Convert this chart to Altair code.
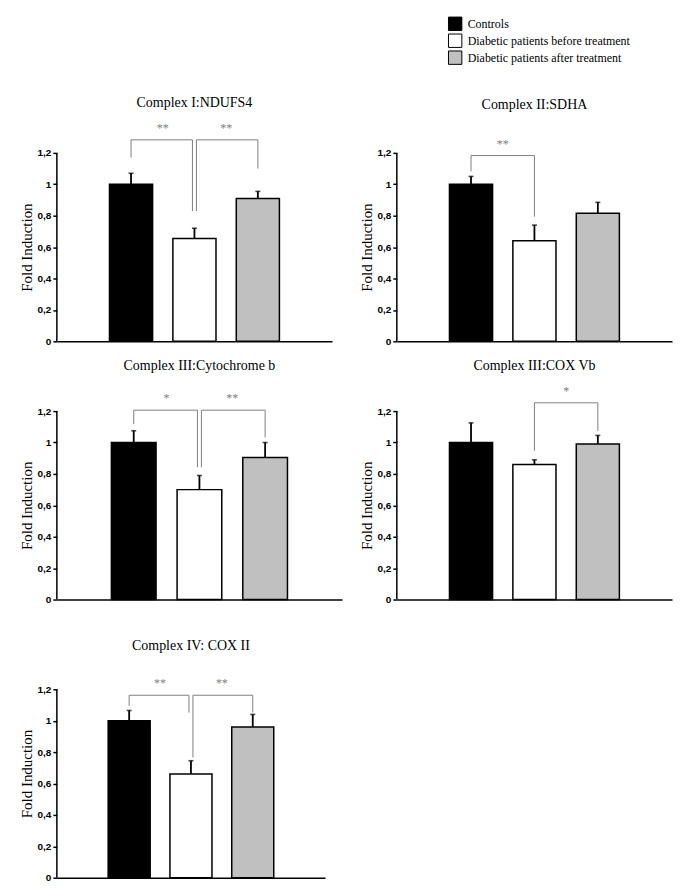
import altair as alt
import pandas as pd

# ---------------- data ----------------
groups = ["Controls", "Diabetic patients before treatment", "Diabetic patients after treatment"]
panel_titles = ["Complex I:NDUFS4", "Complex II:SDHA", "Complex III:Cytochrome b",
                "Complex III:COX Vb", "Complex IV: COX II"]
means = [[1.0, 0.655, 0.91],
         [1.0, 0.64, 0.815],
         [1.0, 0.70, 0.905],
         [1.0, 0.86, 0.99],
         [1.0, 0.66, 0.96]]
errors = [[0.07, 0.065, 0.045],
          [0.05, 0.10, 0.07],
          [0.075, 0.09, 0.095],
          [0.125, 0.03, 0.055],
          [0.065, 0.085, 0.08]]

# significance brackets
br_panel = [0, 0, 1, 2, 2, 3, 4, 4]
br_from = [0, 1, 0, 0, 1, 1, 0, 1]
br_to = [1, 2, 1, 1, 2, 2, 1, 2]
br_top = [1.283, 1.283, 1.183, 1.206, 1.206, 1.253, 1.162, 1.162]
br_end_from = [1.17, 0.83, 1.083, 1.117, 0.843, 0.947, 1.094, 0.766]
br_end_to = [0.83, 1.10, 0.794, 0.843, 1.033, 1.074, 1.052, 1.052]
br_label = ["**", "**", "**", "*", "**", "*", "**", "**"]

y_ticks = [0, 0.2, 0.4, 0.6, 0.8, 1.0, 1.2]

# ---------------- layout / style ----------------
colors = ["#000000", "#ffffff", "#c0c0c0"]
panel_width = [276, 276, 286, 276, 269]
panel_ymax = [1.2, 1.2, 1.2, 1.2, 1.327]
title_offset = [11.5, 26, 19.5, 12, 16]
px_per_unit = 157.5
bar_half = 0.34
x_pad = 1.17
gray = "#808080"

rows = []
for p, t in enumerate(panel_titles):
    for i, g in enumerate(groups):
        rows.append({"panel": t, "group": g, "idx": i,
                     "mean": means[p][i], "err": errors[p][i]})
bars_df = pd.DataFrame(rows)

br_df = pd.DataFrame({
    "panel": [panel_titles[p] for p in br_panel],
    "bid": list(range(len(br_panel))),
    "a": br_from, "b": br_to, "top": br_top,
    "end_a": br_end_from, "end_b": br_end_to, "label": br_label,
})

axis_df = pd.DataFrame({"y0": [y_ticks[0]], "y1": [y_ticks[-1]]})

legend = alt.Legend(
    title=None, orient="none", legendX=392, legendY=-137,
    symbolType="square", symbolSize=180, symbolStrokeColor="black",
    symbolStrokeWidth=1, labelFont="Liberation Serif", labelFontSize=12,
    labelColor="black", rowPadding=-2, labelOffset=5, labelLimit=400,
)

fill_enc = alt.Fill("group:N", scale=alt.Scale(domain=groups, range=colors), legend=legend)


def make_panel(p):
    title = panel_titles[p]
    ymax = panel_ymax[p]
    xscale = alt.Scale(domain=[-x_pad, len(groups) - 1 + x_pad], nice=False, zero=False, padding=0)
    yscale = alt.Scale(domain=[0, ymax], nice=False, zero=True, padding=0)
    xaxis = alt.Axis(labels=False, ticks=False, title=None, grid=False,
                     domain=True, domainColor="black", domainWidth=1.5)
    yaxis = alt.Axis(values=y_ticks, labelExpr="replace(format(datum.value, '.1~f'), '.', ',')",
                     labelFont="Liberation Sans", labelFontWeight="bold", labelFontSize=10,
                     labelColor="black", tickColor="black", tickSize=4, tickWidth=1.5,
                     labelPadding=2, title="Fold Induction", titleFont="Liberation Serif",
                     titleFontSize=15, titleFontWeight="normal", titleColor="black",
                     titlePadding=3, grid=False, domain=False)

    def X(field):
        return alt.X(field, type="quantitative", scale=xscale, axis=xaxis)

    def Y(field):
        return alt.Y(field, type="quantitative", scale=yscale, axis=yaxis)

    base = alt.Chart(bars_df).transform_filter(alt.datum.panel == title).transform_calculate(
        lo=f"datum.idx - {bar_half}", hi=f"datum.idx + {bar_half}",
        topv="datum.mean + datum.err", zero="0")

    bars = base.mark_bar(stroke="black", strokeWidth=1.5).encode(
        x=X("lo"), x2="hi", y=Y("mean"), y2="zero", fill=fill_enc)
    stems = base.mark_rule(color="black", strokeWidth=1.8).encode(
        x=X("idx"), y=Y("mean"), y2="topv")
    caps = base.mark_tick(color="black", thickness=1.6, size=5, orient="horizontal").encode(
        x=X("idx"), y=Y("topv"))
    yline = alt.Chart(axis_df).mark_rule(color="black", strokeWidth=1.5).encode(
        x=alt.value(0), y=Y("y0"), y2="y1")

    layers = [bars, stems, caps, yline]

    sub = br_df[br_df["panel"] == title]
    for _, r in sub.iterrows():
        others = sub[sub["bid"] != r["bid"]]
        oa = 2 if (others["b"] == r["a"]).any() else 0
        ob = -2 if (others["a"] == r["b"]).any() else 0
        bsel = alt.Chart(br_df).transform_filter(alt.datum.bid == int(r["bid"]))
        layers.append(bsel.mark_rule(color=gray, strokeWidth=1, xOffset=oa, x2Offset=ob).encode(
            x=X("a"), x2="b", y=Y("top")))
        layers.append(bsel.mark_rule(color=gray, strokeWidth=1, xOffset=oa).encode(
            x=X("a"), y=Y("top"), y2="end_a"))
        layers.append(bsel.mark_rule(color=gray, strokeWidth=1, xOffset=ob).encode(
            x=X("b"), y=Y("top"), y2="end_b"))
        layers.append(bsel.transform_calculate(mid="(datum.a + datum.b) / 2").mark_text(
            font="Liberation Serif", fontSize=12, color=gray, baseline="alphabetic",
            align="center", dy=-8).encode(x=X("mid"), y=Y("top"), text="label:N"))

    return alt.layer(*layers).properties(
        width=panel_width[p], height=round(ymax * px_per_unit),
        title=alt.TitleParams(title, font="Liberation Serif", fontSize=14, fontWeight="normal",
                              color="black", offset=title_offset[p], frame="group", anchor="middle"))


panels = [make_panel(p) for p in range(len(panel_titles))]

chart = alt.concat(*panels, columns=2, spacing={"row": 70, "column": 55},
                   bounds="flush", align="each").properties(
    padding={"left": 11, "top": 7, "right": 5, "bottom": 5},
    background="white",
).configure_view(stroke=None)

chart.save("out.html", embed_options={"renderer": "svg", "actions": False})
